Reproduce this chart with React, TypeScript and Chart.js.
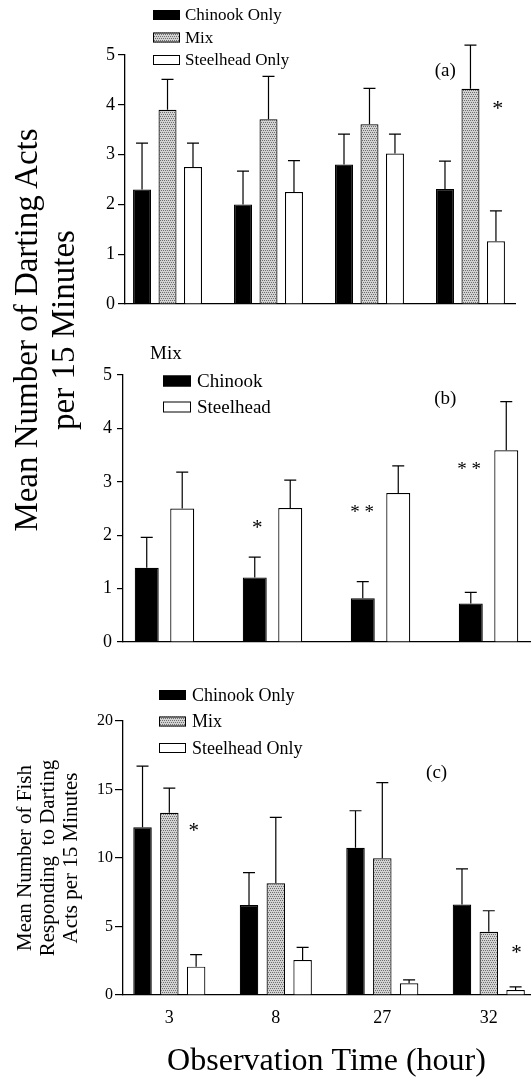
import React, { useEffect, useRef } from 'react';
import { Chart, registerables } from 'chart.js';

Chart.register(...registerables);

const SERIF = '"Liberation Serif", "Times New Roman", serif';

// Observation times (hours)
const hours = ['3', '8', '27', '32'];

// Panel (a): mean number of darting acts per 15 minutes
const aChinook = [2.3, 2.0, 2.8, 2.31];
const aChinookSE = [0.93, 0.67, 0.61, 0.56];
const aMix = [3.9, 3.71, 3.61, 4.32];
const aMixSE = [0.61, 0.86, 0.72, 0.88];
const aSteelhead = [2.75, 2.25, 3.02, 1.26];
const aSteelheadSE = [0.48, 0.63, 0.39, 0.61];

// Panel (b): within mixed tanks
const bChinook = [1.39, 1.21, 0.82, 0.72];
const bChinookSE = [0.57, 0.38, 0.31, 0.21];
const bSteelhead = [2.5, 2.51, 2.79, 3.59];
const bSteelheadSE = [0.68, 0.52, 0.51, 0.91];

// Panel (c): mean number of fish responding to darting acts
const cChinook = [12.24, 6.57, 10.75, 6.6];
const cChinookSE = [4.46, 2.36, 2.7, 2.6];
const cMix = [13.3, 8.15, 9.98, 4.62];
const cMixSE = [1.8, 4.82, 5.52, 1.53];
const cSteelhead = [2.07, 2.55, 0.85, 0.36];
const cSteelheadSE = [0.87, 0.93, 0.25, 0.24];

// Significance marks and panel tags (x = group index, y = value)
const aNotes = [
  { text: '(a)', x: 2.75, y: 4.67, size: 19 },
  { text: '*', x: 3.27, y: 3.92, size: 22 },
];
const bNotes = [
  { text: '(b)', x: 2.6, y: 4.55, size: 19 },
  { text: '*', x: 0.86, y: 2.12, size: 21 },
  { text: '* *', x: 1.83, y: 2.41, size: 19 },
  { text: '* *', x: 2.82, y: 3.23, size: 19 },
];
const cNotes = [
  { text: '(c)', x: 2.51, y: 16.2, size: 19 },
  { text: '*', x: 0.23, y: 11.9, size: 21 },
  { text: '*', x: 3.26, y: 3.05, size: 21 },
];

function pts(vals: number[]) {
  return vals.map((v, i) => ({ x: i, y: v }));
}

function makeMixPattern(): any {
  const c = document.createElement('canvas');
  c.width = 4;
  c.height = 4;
  const g = c.getContext('2d')!;
  g.fillStyle = '#d2d2d2';
  g.fillRect(0, 0, 4, 4);
  g.fillStyle = '#6e6e6e';
  g.fillRect(0, 0, 1, 1);
  g.fillRect(2, 0, 1, 1);
  g.fillRect(1, 2, 1, 1);
  g.fillRect(3, 2, 1, 1);
  const p = g.createPattern(c, 'repeat');
  return p || '#b8b8b8';
}

const errorBarPlugin = {
  id: 'errorBars',
  afterDatasetsDraw(chart: any, _args: any, opts: any) {
    const ctx = chart.ctx;
    const yScale = chart.scales.y;
    const cap = (opts && opts.cap) || 12;
    chart.data.datasets.forEach((ds: any, di: number) => {
      const errs: number[] = ds.errors;
      if (!errs) return;
      const meta = chart.getDatasetMeta(di);
      meta.data.forEach((bar: any, i: number) => {
        const v = ds.data[i].y;
        const top = yScale.getPixelForValue(v + errs[i]);
        ctx.save();
        ctx.strokeStyle = '#000';
        ctx.lineWidth = 1.2;
        ctx.beginPath();
        ctx.moveTo(bar.x, bar.y);
        ctx.lineTo(bar.x, top);
        ctx.moveTo(bar.x - cap / 2, top);
        ctx.lineTo(bar.x + cap / 2, top);
        ctx.stroke();
        ctx.restore();
      });
    });
  },
};

const boxLegendPlugin = {
  id: 'boxLegend',
  afterDraw(chart: any, _args: any, opts: any) {
    if (!opts || !opts.show) return;
    const ctx = chart.ctx;
    ctx.save();
    ctx.font = `${opts.size}px ${SERIF}`;
    ctx.textBaseline = 'middle';
    ctx.textAlign = 'left';
    if (opts.headerText) {
      ctx.fillStyle = '#000';
      ctx.fillText(opts.headerText, opts.headerX, opts.headerY);
    }
    chart.data.datasets.forEach((ds: any, i: number) => {
      const y = opts.y + i * opts.dy;
      ctx.fillStyle = ds.backgroundColor;
      ctx.fillRect(opts.x, y - opts.boxH / 2, opts.boxW, opts.boxH);
      ctx.strokeStyle = '#000';
      ctx.lineWidth = 1;
      ctx.strokeRect(opts.x + 0.5, y - opts.boxH / 2 + 0.5, opts.boxW - 1, opts.boxH - 1);
      ctx.fillStyle = '#000';
      ctx.fillText(ds.label, opts.x + opts.boxW + opts.gap, y + 1);
    });
    ctx.restore();
  },
};

const notesPlugin = {
  id: 'notes',
  afterDraw(chart: any, _args: any, opts: any) {
    const items = (opts && opts.items) || [];
    const ctx = chart.ctx;
    const xs = chart.scales.x;
    const ys = chart.scales.y;
    ctx.save();
    ctx.fillStyle = '#000';
    ctx.textAlign = 'center';
    ctx.textBaseline = 'middle';
    for (let i = 0; i < items.length; i++) {
      const it = items[i];
      ctx.font = `${it.size}px ${SERIF}`;
      ctx.fillText(it.text, xs.getPixelForValue(it.x), ys.getPixelForValue(it.y));
    }
    ctx.restore();
  },
};

function xScale(min: number, max: number, showTicks: boolean, title?: string) {
  return {
    type: 'linear',
    min,
    max,
    offset: false,
    afterBuildTicks: (s: any) => {
      s.ticks = hours.map((_h, i) => ({ value: i }));
    },
    afterFit: title
      ? (s: any) => {
          s.height = 83;
        }
      : undefined,
    ticks: {
      display: showTicks,
      color: '#000',
      font: { size: 18, family: SERIF },
      padding: 4,
      maxRotation: 0,
      autoSkip: false,
      callback: (v: any) => hours[v] ?? '',
    },
    grid: { display: false },
    border: { display: true, color: '#000', width: 1.3 },
    title: title
      ? {
          display: true,
          text: title,
          color: '#000',
          font: { size: 32, family: SERIF, lineHeight: 1 },
          padding: { top: 0, bottom: 0 },
        }
      : { display: false },
  };
}

function yScale(max: number, step: number, width: number, fontSize: number, tickLen: number, pad: number, title?: string[]) {
  return {
    min: 0,
    max,
    afterFit: (s: any) => {
      s.width = width;
    },
    ticks: {
      stepSize: step,
      color: '#000',
      font: { size: fontSize, family: SERIF },
      padding: pad,
    },
    grid: {
      display: true,
      drawOnChartArea: false,
      drawTicks: true,
      tickLength: tickLen,
      color: '#000',
      lineWidth: 1.2,
    },
    border: { display: true, color: '#000', width: 1.3 },
    title: title
      ? {
          display: true,
          text: title,
          color: '#000',
          font: { size: 21, family: SERIF, lineHeight: 1.1 },
          padding: { top: 14, bottom: 0 },
        }
      : { display: false },
  };
}

function barStyle(color: any) {
  return { backgroundColor: color, borderColor: '#000', borderWidth: 1.2 };
}

function useChart(ref: React.RefObject<HTMLCanvasElement | null>, build: () => any) {
  useEffect(() => {
    if (!ref.current) return;
    const chart = new Chart(ref.current, build());
    return () => chart.destroy();
  }, []);
}

const canvasStyle = (top: number, height: number): React.CSSProperties => ({
  position: 'absolute',
  left: 0,
  top,
  width: 531,
  height,
  display: 'block',
});

export default function App() {
  const refA = useRef<HTMLCanvasElement>(null);
  const refB = useRef<HTMLCanvasElement>(null);
  const refC = useRef<HTMLCanvasElement>(null);

  useChart(refA, () => {
    const mix = makeMixPattern();
    return {
      type: 'bar',
      data: {
        datasets: [
          { label: 'Chinook Only', data: pts(aChinook), errors: aChinookSE, ...barStyle('#000') },
          { label: 'Mix', data: pts(aMix), errors: aMixSE, ...barStyle(mix) },
          { label: 'Steelhead Only', data: pts(aSteelhead), errors: aSteelheadSE, ...barStyle('#fff') },
        ],
      },
      options: {
        animation: false,
        responsive: false,
        maintainAspectRatio: false,
        layout: { padding: { top: 55, bottom: 18, left: 0, right: 16 } },
        datasets: { bar: { categoryPercentage: 0.757, barPercentage: 0.706 } },
        scales: {
          x: xScale(-0.421, 3.441, false),
          y: yScale(5, 1, 125, 18, 7, 3),
        },
        plugins: {
          legend: { display: false },
          tooltip: { enabled: false },
          errorBars: { cap: 12 },
          boxLegend: { show: true, size: 17, x: 153, y: 15, dy: 22.5, boxW: 27, boxH: 10, gap: 5 },
          notes: { items: aNotes },
        },
      },
      plugins: [errorBarPlugin, boxLegendPlugin, notesPlugin],
    };
  });

  useChart(refB, () => ({
    type: 'bar',
    data: {
      datasets: [
        { label: 'Chinook', data: pts(bChinook), errors: bChinookSE, ...barStyle('#000') },
        { label: 'Steelhead', data: pts(bSteelhead), errors: bSteelheadSE, ...barStyle('#fff') },
      ],
    },
    options: {
      animation: false,
      responsive: false,
      maintainAspectRatio: false,
      layout: { padding: { top: 45, bottom: 20, left: 0, right: 1 } },
      datasets: { bar: { categoryPercentage: 0.657, barPercentage: 0.676 } },
      scales: {
        x: xScale(-0.384, 3.384, false),
        y: yScale(5, 1, 123, 18, 6, 5),
      },
      plugins: {
        legend: { display: false },
        tooltip: { enabled: false },
        errorBars: { cap: 12 },
        boxLegend: {
          show: true,
          size: 19,
          x: 163,
          y: 51,
          dy: 26,
          boxW: 28,
          boxH: 11,
          gap: 6,
          headerText: 'Mix',
          headerX: 150,
          headerY: 24,
        },
        notes: { items: bNotes },
      },
    },
    plugins: [errorBarPlugin, boxLegendPlugin, notesPlugin],
  }));

  useChart(refC, () => {
    const mix = makeMixPattern();
    return {
      type: 'bar',
      data: {
        datasets: [
          { label: 'Chinook Only', data: pts(cChinook), errors: cChinookSE, ...barStyle('#000') },
          { label: 'Mix', data: pts(cMix), errors: cMixSE, ...barStyle(mix) },
          { label: 'Steelhead Only', data: pts(cSteelhead), errors: cSteelheadSE, ...barStyle('#fff') },
        ],
      },
      options: {
        animation: false,
        responsive: false,
        maintainAspectRatio: false,
        layout: { padding: { top: 61, bottom: 0, left: 0, right: 1 } },
        datasets: { bar: { categoryPercentage: 0.755, barPercentage: 0.69 } },
        scales: {
          x: xScale(-0.435, 3.387, true, 'Observation Time (hour)'),
          y: yScale(20, 5, 123, 16, 8, 2, ['Mean Number of Fish', 'Responding  to Darting', 'Acts per 15 Minutes']),
        },
        plugins: {
          legend: { display: false },
          tooltip: { enabled: false },
          errorBars: { cap: 12 },
          boxLegend: { show: true, size: 18, x: 159, y: 35, dy: 26.5, boxW: 27, boxH: 10, gap: 6 },
          notes: { items: cNotes },
        },
      },
      plugins: [errorBarPlugin, boxLegendPlugin, notesPlugin],
    };
  });

  return (
    <div style={{ position: 'absolute', left: 0, top: 0, width: 531, height: 1078, background: '#fff' }}>
      <canvas ref={refA} width={531} height={330} style={canvasStyle(0, 330)} />
      <canvas ref={refB} width={531} height={340} style={canvasStyle(330, 340)} />
      <canvas ref={refC} width={531} height={418} style={canvasStyle(660, 418)} />
      <div
        style={{
          position: 'absolute',
          left: 45 - 230,
          top: 330 - 37,
          width: 460,
          height: 74,
          transform: 'rotate(-90deg)',
          fontFamily: SERIF,
          fontSize: 33,
          lineHeight: '37px',
          textAlign: 'center',
          whiteSpace: 'nowrap',
          color: '#000',
        }}
      >
        <div>Mean Number of Darting Acts</div>
        <div>per 15 Minutes</div>
      </div>
    </div>
  );
}
